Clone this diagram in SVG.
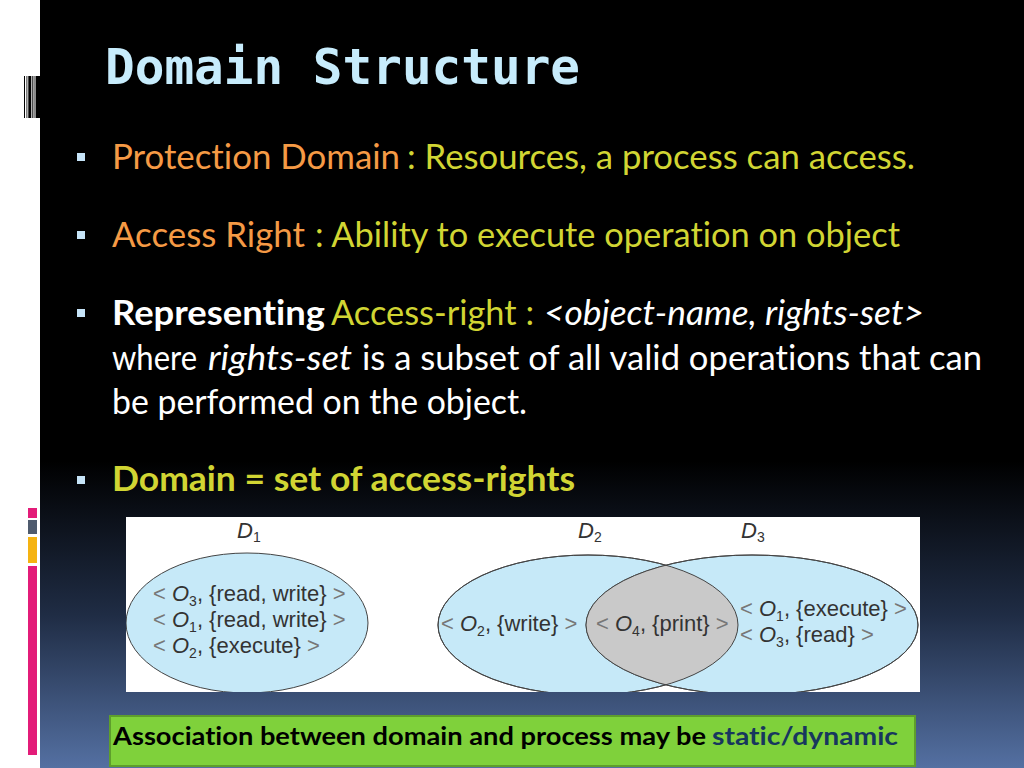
<svg xmlns="http://www.w3.org/2000/svg" width="1024" height="768" viewBox="0 0 1024 768">
<defs>
<linearGradient id="bg" x1="0" y1="0" x2="0" y2="768" gradientUnits="userSpaceOnUse">
<stop offset="0" stop-color="#000000"/>
<stop offset="0.6" stop-color="#000000"/>
<stop offset="0.8" stop-color="#1f2c44"/>
<stop offset="1" stop-color="#5470a2"/>
</linearGradient>
<clipPath id="box"><rect x="126" y="517" width="794" height="175"/></clipPath>
<clipPath id="d2clip"><ellipse cx="588" cy="625" rx="150" ry="70"/></clipPath>
<style>
text{font-variant-ligatures:none;font-feature-settings:"liga" 0,"clig" 0,"dlig" 0}
.body{font-family:Lato,"Open Sans","Noto Sans",sans-serif;font-size:34px}
.org{fill:#f59a45}
.yg{fill:#d1d533}
.wh{fill:#ffffff}
.b{font-weight:bold}
.i{font-style:italic}
.bul{fill:#c6e4f8}
.ell{fill:#c6e9f8;stroke:#444;stroke-width:1}
.lbl{font-family:"Liberation Sans",Arial,sans-serif;font-size:22px;fill:#333}
.sym{fill:#777}
.sub{font-size:14px;font-style:normal}
</style>
</defs>
<rect x="0" y="0" width="1024" height="768" fill="url(#bg)"/>
<rect x="0" y="0" width="40" height="768" fill="#ffffff"/>
<g id="barcode">
<rect x="24" y="76" width="1" height="42" fill="#000"/>
<rect x="26.5" y="76" width="0.8" height="42" fill="#000"/>
<rect x="28.3" y="76" width="3" height="42" fill="#000"/>
<rect x="32.3" y="76" width="1" height="42" fill="#000"/>
<rect x="33.6" y="76" width="1.6" height="42" fill="#888"/>
<rect x="35.6" y="76" width="4.4" height="42" fill="#000"/>
</g>
<g id="sidebars">
<rect x="28" y="508" width="9" height="10" fill="#e31c79"/>
<rect x="28" y="520" width="9" height="14" fill="#4f5b6e"/>
<rect x="28" y="537" width="9" height="26" fill="#f5b312"/>
<rect x="28" y="566" width="9" height="189" fill="#e31c79"/>
</g>
<g id="title">
<text x="105" y="84" font-family="'DejaVu Sans Mono',monospace" font-weight="bold" font-size="50" fill="#c7ecfc" textLength="475" lengthAdjust="spacingAndGlyphs">Domain Structure</text>
</g>
<g id="bullets">
<rect class="bul" x="77" y="153" width="8" height="8"/>
<rect class="bul" x="77" y="231" width="8" height="8"/>
<rect class="bul" x="77" y="309" width="8" height="8"/>
<rect class="bul" x="77" y="476" width="8" height="8"/>
</g>
<g id="text" class="body">
<text class="org" x="112" y="169" textLength="288" lengthAdjust="spacingAndGlyphs">Protection Domain</text>
<text class="yg" x="407" y="169" textLength="508" lengthAdjust="spacingAndGlyphs">: Resources, a process can access.</text>
<text class="org" x="112" y="247" textLength="193" lengthAdjust="spacingAndGlyphs">Access Right</text>
<text class="yg" x="315" y="247" textLength="585" lengthAdjust="spacingAndGlyphs">: Ability to execute operation on object</text>
<text class="wh b" x="112" y="325" textLength="213" lengthAdjust="spacingAndGlyphs">Representing</text>
<text class="yg" x="331" y="325" textLength="203" lengthAdjust="spacingAndGlyphs">Access-right :</text>
<text class="wh i" x="544" y="325" textLength="380" lengthAdjust="spacingAndGlyphs">&lt;object-name, rights-set&gt;</text>
<text class="wh" x="112" y="370" textLength="85" lengthAdjust="spacingAndGlyphs">where</text>
<text class="wh i" x="208" y="370" textLength="144" lengthAdjust="spacingAndGlyphs">rights-set</text>
<text class="wh" x="362" y="370" textLength="620" lengthAdjust="spacingAndGlyphs">is a subset of all valid operations that can</text>
<text class="wh" x="112" y="414" textLength="415" lengthAdjust="spacingAndGlyphs">be performed on the object.</text>
<text class="yg b" x="112" y="491" textLength="463" lengthAdjust="spacingAndGlyphs">Domain = set of access-rights</text>
</g>
<g id="figure">
<rect x="126" y="517" width="794" height="175" fill="#ffffff"/>
<g clip-path="url(#box)">
<g id="D1">
<ellipse class="ell" cx="247" cy="623" rx="121" ry="70"/>
<text class="lbl" x="237" y="538"><tspan class="i">D</tspan><tspan class="sub" dy="4">1</tspan></text>
<text class="lbl" x="153" y="601"><tspan class="sym">&lt; </tspan><tspan class="i">O</tspan><tspan class="sub" dy="5">3</tspan><tspan dy="-5">, {read, write} </tspan><tspan class="sym">&gt;</tspan></text>
<text class="lbl" x="153" y="627"><tspan class="sym">&lt; </tspan><tspan class="i">O</tspan><tspan class="sub" dy="5">1</tspan><tspan dy="-5">, {read, write} </tspan><tspan class="sym">&gt;</tspan></text>
<text class="lbl" x="153" y="653"><tspan class="sym">&lt; </tspan><tspan class="i">O</tspan><tspan class="sub" dy="5">2</tspan><tspan dy="-5">, {execute} </tspan><tspan class="sym">&gt;</tspan></text>
</g>
<g id="D2">
<ellipse class="ell" cx="588" cy="625" rx="150" ry="70"/>
</g>
<g id="D3">
<ellipse class="ell" cx="752" cy="625" rx="166" ry="70"/>
</g>
<g id="D2D3">
<ellipse cx="752" cy="625" rx="166" ry="70" fill="#c9c9c9" clip-path="url(#d2clip)"/>
<ellipse cx="588" cy="625" rx="150" ry="70" fill="none" stroke="#444" stroke-width="1"/>
<ellipse cx="752" cy="625" rx="166" ry="70" fill="none" stroke="#444" stroke-width="1"/>
</g>
<text class="lbl" x="578" y="538"><tspan class="i">D</tspan><tspan class="sub" dy="4">2</tspan></text>
<text class="lbl" x="741" y="538"><tspan class="i">D</tspan><tspan class="sub" dy="4">3</tspan></text>
<text class="lbl" x="441" y="631"><tspan class="sym">&lt; </tspan><tspan class="i">O</tspan><tspan class="sub" dy="5">2</tspan><tspan dy="-5">, {write} </tspan><tspan class="sym">&gt;</tspan></text>
<text class="lbl" x="596" y="631"><tspan class="sym">&lt; </tspan><tspan class="i">O</tspan><tspan class="sub" dy="5">4</tspan><tspan dy="-5">, {print} </tspan><tspan class="sym">&gt;</tspan></text>
<text class="lbl" x="740" y="616"><tspan class="sym">&lt; </tspan><tspan class="i">O</tspan><tspan class="sub" dy="5">1</tspan><tspan dy="-5">, {execute} </tspan><tspan class="sym">&gt;</tspan></text>
<text class="lbl" x="740" y="642"><tspan class="sym">&lt; </tspan><tspan class="i">O</tspan><tspan class="sub" dy="5">3</tspan><tspan dy="-5">, {read} </tspan><tspan class="sym">&gt;</tspan></text>
</g>
</g>
<g id="connectors"/>
<g id="note">
<rect x="110" y="716" width="805" height="50" fill="#7fd13b" stroke="#5e9e2c" stroke-width="2"/>
<text x="113" y="745" font-family="Lato,'Open Sans',sans-serif" font-weight="bold" font-size="25" fill="#000" textLength="593" lengthAdjust="spacingAndGlyphs">Association between domain and process may be</text>
<text x="712" y="745" font-family="Lato,'Open Sans',sans-serif" font-weight="bold" font-size="25" fill="#17375e" textLength="186" lengthAdjust="spacingAndGlyphs">static/dynamic</text>
</g>
</svg>
